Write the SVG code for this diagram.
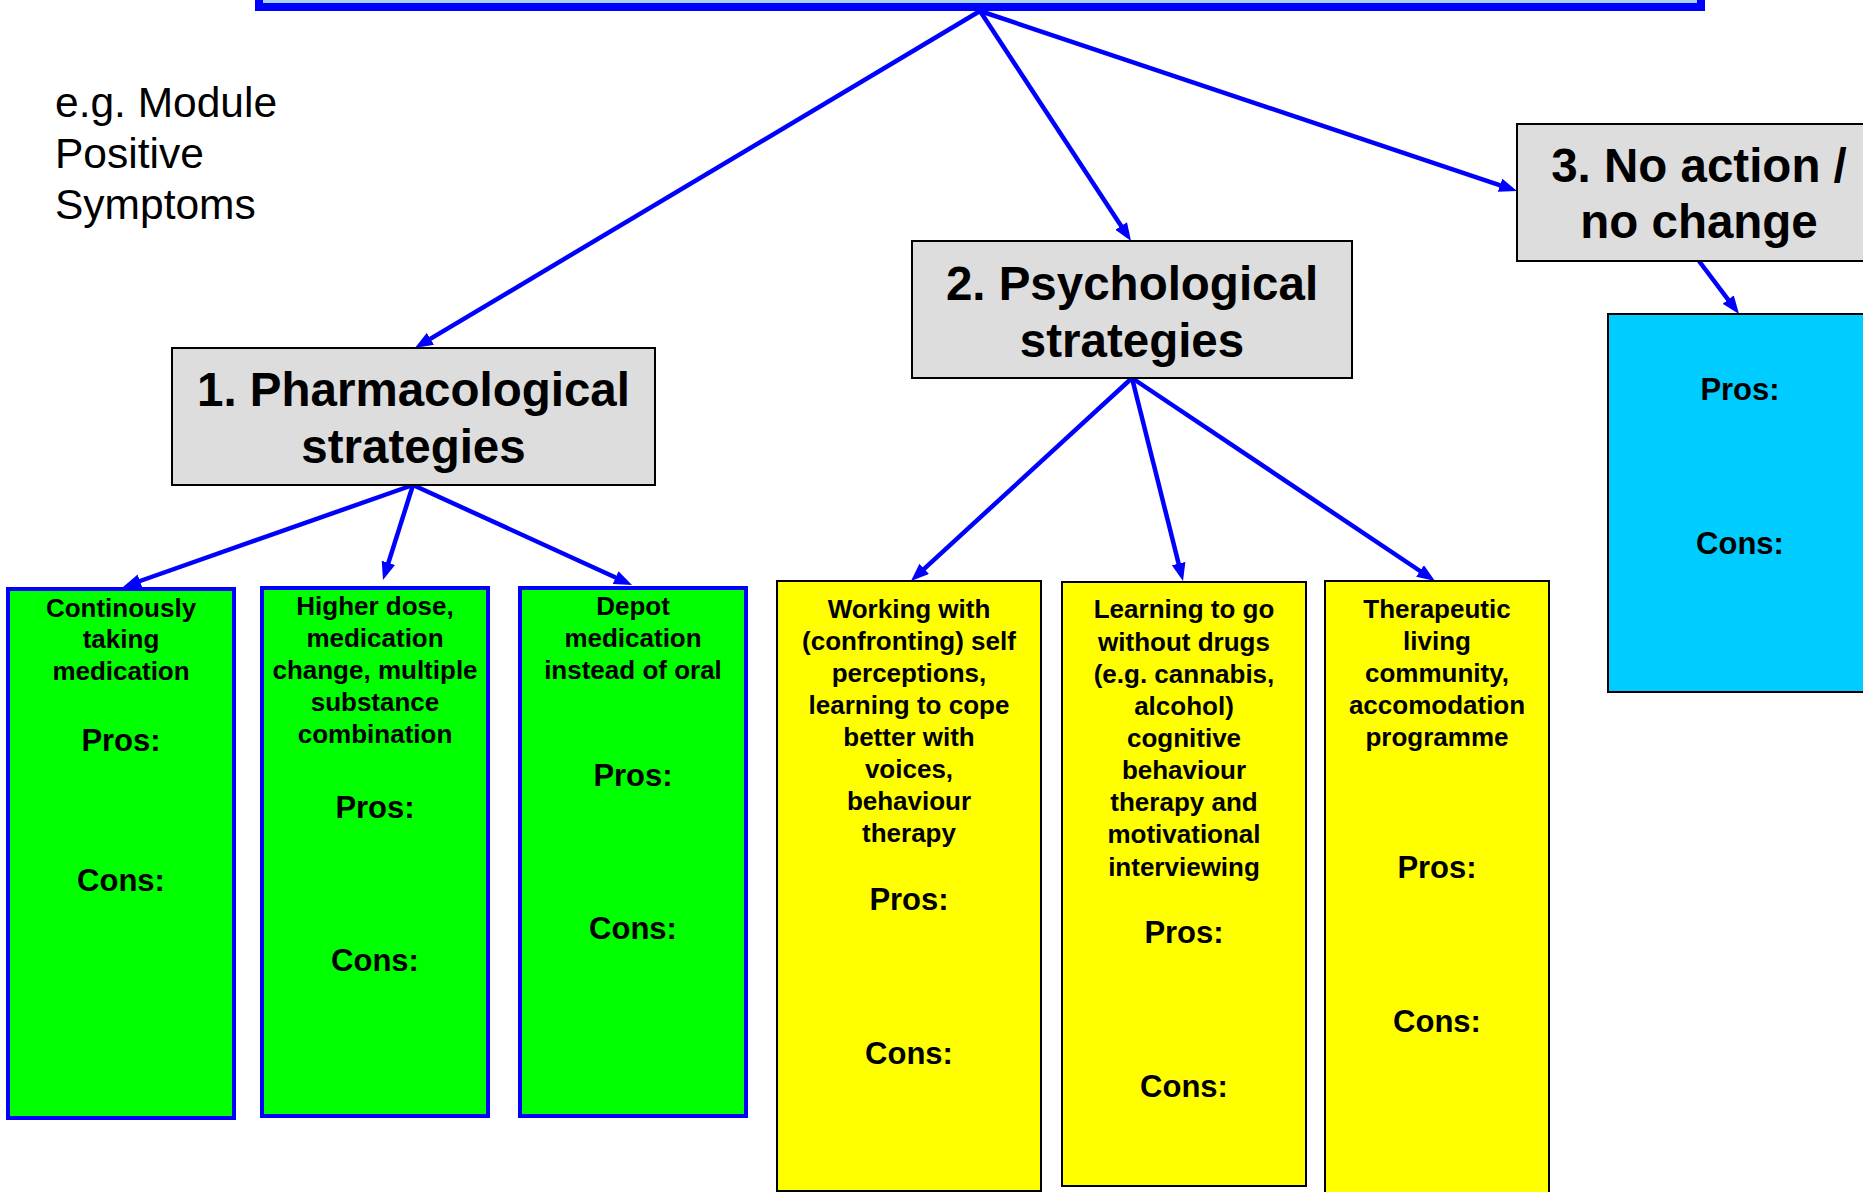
<svg xmlns="http://www.w3.org/2000/svg" width="1863" height="1192" viewBox="0 0 1863 1192">
  <defs>
    <marker id="head" markerUnits="userSpaceOnUse" markerWidth="18" markerHeight="14" refX="9" refY="7" orient="auto">
      <path d="M0,0 L18,7 L0,14 z" fill="#0000ff"/>
    </marker>
    <style>
      .link { stroke: #0000ff; stroke-width: 4.5; fill: none; marker-end: url(#head); }
      .strategy { fill: #dddddd; stroke: #000000; stroke-width: 2; }
      .drug { fill: #00ff00; stroke: #0000ff; stroke-width: 4; }
      .psych { fill: #ffff00; stroke: #000000; stroke-width: 2; }
      .none { fill: #00ccff; stroke: #000000; stroke-width: 2; }
      text { font-family: "Liberation Sans", Arial, sans-serif; fill: #000000; }
      .head { font-size: 47.5px; font-weight: bold; text-anchor: middle; }
      .small { font-size: 26px; font-weight: bold; text-anchor: middle; }
      .pc { font-size: 31px; font-weight: bold; text-anchor: middle; }
      .note { font-size: 42.5px; }
    </style>
  </defs>

  <rect width="1863" height="1192" fill="#ffffff"/>

  <!-- top box, mostly above the visible area -->
  <g id="top">
    <rect x="259" y="-80" width="1442" height="87" fill="#a6d5ec" stroke="#0000ff" stroke-width="8"/>
  </g>

  <g id="note">
    <text class="note" x="55" y="117">e.g. Module</text>
    <text class="note" x="55" y="168">Positive</text>
    <text class="note" x="55" y="219">Symptoms</text>
  </g>

  <!-- connectors: each line stops 9px short of its tip, the marker supplies the rest -->
  <g id="connectors">
    <line class="link" x1="980" y1="11" x2="422.7" y2="343.4"/>
    <line class="link" x1="980" y1="11" x2="1126.1" y2="233.5"/>
    <line class="link" x1="980" y1="11" x2="1508.5" y2="188.1"/>
    <line class="link" x1="1699" y1="261" x2="1733.6" y2="306.8"/>
    <line class="link" x1="413" y1="485" x2="131.5" y2="584.0"/>
    <line class="link" x1="413" y1="485" x2="385.7" y2="571.4"/>
    <line class="link" x1="413" y1="485" x2="623.8" y2="581.3"/>
    <line class="link" x1="1132" y1="378" x2="917.6" y2="574.9"/>
    <line class="link" x1="1132" y1="378" x2="1180.8" y2="572.3"/>
    <line class="link" x1="1132" y1="378" x2="1427.5" y2="576.0"/>
  </g>

  <!-- strategy headings -->
  <g id="pharmacological">
    <rect class="strategy" x="172" y="348" width="483" height="137"/>
    <text class="head" x="413.5" y="406">1. Pharmacological</text>
    <text class="head" x="413.5" y="463">strategies</text>
  </g>
  <g id="psychological">
    <rect class="strategy" x="912" y="241" width="440" height="137"/>
    <text class="head" x="1132" y="300">2. Psychological</text>
    <text class="head" x="1132" y="357">strategies</text>
  </g>
  <g id="no-action">
    <rect class="strategy" x="1517" y="124" width="364" height="137"/>
    <text class="head" x="1699" y="182">3. No action /</text>
    <text class="head" x="1699" y="238">no change</text>
  </g>

  <!-- pharmacological options -->
  <g id="continuous">
    <rect class="drug" x="8" y="589" width="226" height="529"/>
    <text class="small" x="121" y="617">Continously</text>
    <text class="small" x="121" y="648">taking</text>
    <text class="small" x="121" y="680">medication</text>
    <text class="pc" x="121" y="751">Pros:</text>
    <text class="pc" x="121" y="891">Cons:</text>
  </g>
  <g id="higher-dose">
    <rect class="drug" x="262" y="588" width="226" height="528"/>
    <text class="small" x="375" y="615">Higher dose,</text>
    <text class="small" x="375" y="647">medication</text>
    <text class="small" x="375" y="679">change, multiple</text>
    <text class="small" x="375" y="711">substance</text>
    <text class="small" x="375" y="743">combination</text>
    <text class="pc" x="375" y="818">Pros:</text>
    <text class="pc" x="375" y="971">Cons:</text>
  </g>
  <g id="depot">
    <rect class="drug" x="520" y="588" width="226" height="528"/>
    <text class="small" x="633" y="615">Depot</text>
    <text class="small" x="633" y="647">medication</text>
    <text class="small" x="633" y="679">instead of oral</text>
    <text class="pc" x="633" y="786">Pros:</text>
    <text class="pc" x="633" y="939">Cons:</text>
  </g>

  <!-- psychological options -->
  <g id="self-perceptions">
    <rect class="psych" x="777" y="581" width="264" height="610"/>
    <text class="small" x="909" y="618">Working with</text>
    <text class="small" x="909" y="650">(confronting) self</text>
    <text class="small" x="909" y="682">perceptions,</text>
    <text class="small" x="909" y="714">learning to cope</text>
    <text class="small" x="909" y="746">better with</text>
    <text class="small" x="909" y="778">voices,</text>
    <text class="small" x="909" y="810">behaviour</text>
    <text class="small" x="909" y="842">therapy</text>
    <text class="pc" x="909" y="910">Pros:</text>
    <text class="pc" x="909" y="1064">Cons:</text>
  </g>
  <g id="without-drugs">
    <rect class="psych" x="1062" y="582" width="244" height="604"/>
    <text class="small" x="1184" y="618">Learning to go</text>
    <text class="small" x="1184" y="651">without drugs</text>
    <text class="small" x="1184" y="683">(e.g. cannabis,</text>
    <text class="small" x="1184" y="715">alcohol)</text>
    <text class="small" x="1184" y="747">cognitive</text>
    <text class="small" x="1184" y="779">behaviour</text>
    <text class="small" x="1184" y="811">therapy and</text>
    <text class="small" x="1184" y="843">motivational</text>
    <text class="small" x="1184" y="876">interviewing</text>
    <text class="pc" x="1184" y="943">Pros:</text>
    <text class="pc" x="1184" y="1097">Cons:</text>
  </g>
  <g id="living-community">
    <rect class="psych" x="1325" y="581" width="224" height="640"/>
    <text class="small" x="1437" y="618">Therapeutic</text>
    <text class="small" x="1437" y="650">living</text>
    <text class="small" x="1437" y="682">community,</text>
    <text class="small" x="1437" y="714">accomodation</text>
    <text class="small" x="1437" y="746">programme</text>
    <text class="pc" x="1437" y="878">Pros:</text>
    <text class="pc" x="1437" y="1032">Cons:</text>
  </g>

  <!-- no action option -->
  <g id="no-change">
    <rect class="none" x="1608" y="314" width="264" height="378"/>
    <text class="pc" x="1740" y="400">Pros:</text>
    <text class="pc" x="1740" y="554">Cons:</text>
  </g>
</svg>
